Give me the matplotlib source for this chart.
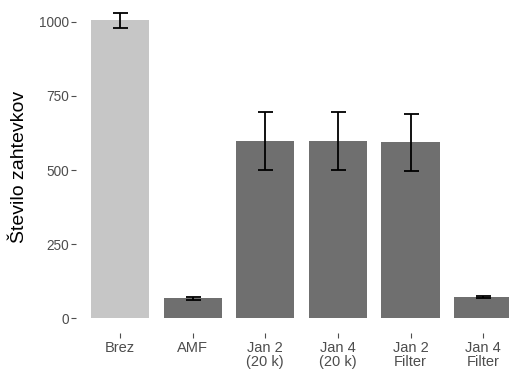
import matplotlib
matplotlib.use("Agg")
import matplotlib.pyplot as plt
import numpy as np

plt.rcParams['font.family'] = ['Liberation Sans', 'DejaVu Sans']

categories = ["Brez", "AMF", "Jan 2\n(20 k)", "Jan 4\n(20 k)", "Jan 2\nFilter", "Jan 4\nFilter"]
means = [1005, 67, 598, 598, 594, 71]
errors = [25, 5, 97, 97, 96, 3]
bar_colors = ["#c6c6c6", "#6f6f6f", "#6f6f6f", "#6f6f6f", "#6f6f6f", "#6f6f6f"]

fig = plt.figure(figsize=(5.1, 3.72), dpi=100)
ax = fig.add_axes([0.15, 0.105, 0.85, 0.895])

x = np.arange(1, len(categories) + 1)
ax.bar(x, means, width=0.8, color=bar_colors, zorder=2)
ax.errorbar(x, means, yerr=errors, fmt="none", ecolor="black",
            elinewidth=1.3, capsize=5.4, capthick=1.3, zorder=3)

ax.set_xlim(0.4, 6.37)
ax.set_ylim(-50, 1074)
ax.set_xticks(x)
ax.set_xticklabels(categories, fontsize=10.5, color="#4d4d4d", linespacing=1.05)
ax.set_yticks([0, 250, 500, 750, 1000])
ax.set_yticklabels(["0", "250", "500", "750", "1000"], fontsize=9.8, color="#4d4d4d")
ax.tick_params(axis="both", length=3.5, width=0.8, color="#4d4d4d", pad=2)
ax.set_ylabel("Število zahtevkov", fontsize=14, color="black", labelpad=8)

for s in ax.spines.values():
    s.set_visible(False)

fig.savefig("out.png", dpi=100)
